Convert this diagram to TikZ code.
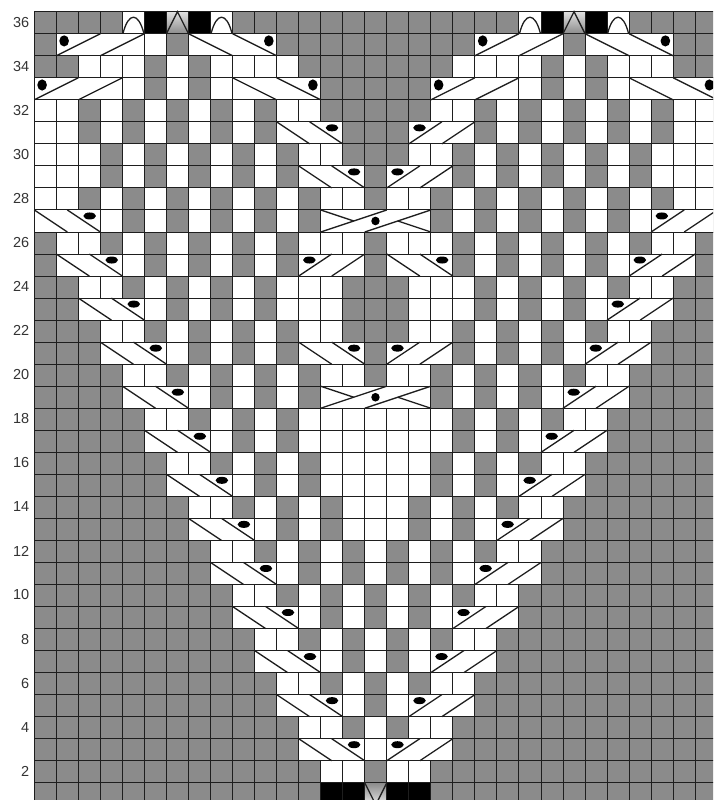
\documentclass[tikz,border=0pt]{standalone}
\usepackage{fontspec}
\setmainfont{Liberation Sans}
\usetikzlibrary{calc}
\definecolor{cellgray}{HTML}{8B8B8B}
\definecolor{gridink}{HTML}{1E1E1E}
\tikzset{
  declare function={cx(\c)=34.3+22.03*\c; ry(\r)=11.7+22.03*(36-\r);},
  gridline/.style={draw=gridink,line width=0.95pt},
  braidline/.style={draw=gridink,line width=1.3pt},
  blockfill/.style={fill=white,draw=gridink,line width=0.95pt},
  rowlabel/.style={font=\fontsize{14.5}{16}\selectfont,text=black!80,anchor=east,inner sep=0pt},
}
% falling block: #1 row, #2 first column, #3 number of columns
\newcommand{\fallblock}[3]{%
  \fill[blockfill] ({cx(#2)},{ry(#1)}) rectangle ({cx(#2+#3)},{ry(#1-1)});
  \draw[braidline] ({cx(#2)},{ry(#1)}) -- ({cx(#2+#3/2)},{ry(#1-1)});
  \draw[braidline] ({cx(#2+#3/2)},{ry(#1)}) -- ({cx(#2+#3)},{ry(#1-1)});
}
\newcommand{\riseblock}[3]{%
  \fill[blockfill] ({cx(#2)},{ry(#1)}) rectangle ({cx(#2+#3)},{ry(#1-1)});
  \draw[braidline] ({cx(#2)},{ry(#1-1)}) -- ({cx(#2+#3/2)},{ry(#1)});
  \draw[braidline] ({cx(#2+#3/2)},{ry(#1-1)}) -- ({cx(#2+#3)},{ry(#1)});
}
\newcommand{\crossblock}[1]{%
  \fill[blockfill] ({cx(13)},{ry(#1)}) rectangle ({cx(18)},{ry(#1-1)});
  \draw[braidline] ({cx(13)},{ry(#1-1)}) -- ({cx(16)},{ry(#1)});
  \draw[braidline] ({cx(15)},{ry(#1-1)}) -- ({cx(18)},{ry(#1)});
  \draw[braidline] ({cx(13)},{ry(#1)}) -- ({cx(14.5)},{ry(#1-0.5)});
  \draw[braidline] ({cx(16.5)},{ry(#1-0.5)}) -- ({cx(18)},{ry(#1-1)});
  \fill[black] ({cx(15.5)-0.3},{ry(#1-0.5)}) ellipse [x radius=4.2pt,y radius=4.3pt];
}
\begin{document}
\begin{tikzpicture}[x=1pt,y=-1pt]
\useasboundingbox (0,0) rectangle (713,800);
\begin{scope}
\clip (0,0) rectangle (713,800);
% gray ground
\fill[cellgray] ({cx(0)},{ry(36)}) rectangle ({cx(31)},{ry(0)});
% white cells, row by row
\foreach \r/\cells in {
 34/{2,3,4,6,8,9,10,11,19,20,21,22,24,26,27,28},
 35/{5},
 33/{4,6,8,22,24,26},
 32/{0,1,3,5,7,9,11,12,18,19,21,23,25,27,29,30},
 31/{0,1,3,5,7,9,21,23,25,27,29,30},
 30/{0,1,2,4,6,8,10,12,13,17,18,20,22,24,26,28,29,30},
 29/{0,1,2,4,6,8,10,20,22,24,26,28,29,30},
 28/{0,1,3,5,7,9,11,13,14,16,17,19,21,23,25,27,29,30},
 27/{3,5,7,9,11,19,21,23,25,27},
 26/{1,2,4,6,8,10,12,13,14,16,17,18,20,22,24,26,28,29},
 25/{4,6,8,10,20,22,24,26},
 24/{2,3,5,7,9,11,12,13,17,18,19,21,23,25,27,28},
 23/{5,7,9,11,12,13,17,18,19,21,23,25},
 22/{3,4,6,8,10,12,13,17,18,20,22,24,26,27},
 21/{6,8,10,20,22,24},
 20/{4,5,7,9,11,13,14,16,17,19,21,23,25,26},
 19/{7,9,11,19,21,23},
 18/{5,6,8,10,12,13,14,15,16,17,18,20,22,24,25},
 17/{8,10,12,13,14,15,16,17,18,20,22},
 16/{6,7,9,11,13,14,15,16,17,19,21,23,24},
 15/{9,11,13,14,15,16,17,19,21},
 14/{7,8,10,12,14,15,16,18,20,22,23},
 13/{10,12,14,15,16,18,20},
 12/{8,9,11,13,15,17,19,21,22},
 11/{11,13,15,17,19},
 10/{9,10,12,14,16,18,20,21},
 9/{12,14,16,18},
 8/{10,11,13,15,17,19,20},
 7/{13,15,17},
 6/{11,12,14,16,18,19},
 5/{14,16},
 4/{12,13,15,17,18},
 3/{15},
 2/{13,14,16,17},
 36/{4,8,22,26}}{
  \foreach \c in \cells {
    \fill[white] ({cx(\c)},{ry(\r)}) rectangle ({cx(\c+1)},{ry(\r-1)});
  }
}
% black cells
\foreach \r/\c in {36/5,36/7,36/23,36/25,1/13,1/14,1/16,1/17}{
  \fill[black] ({cx(\c)},{ry(\r)}) rectangle ({cx(\c+1)},{ry(\r-1)});
}
% shaded triangle cells
\foreach \c in {6,24}{
  \shade[top color=black!12,bottom color=cellgray] ({cx(\c)},{ry(36)}) rectangle ({cx(\c+1)},{ry(35)});
}
\shade[top color=cellgray,bottom color=black!10] ({cx(15)},{ry(1)}) rectangle ({cx(16)},{ry(0)});
% grid
\foreach \c in {0,...,31}{ \draw[gridline] ({cx(\c)},{ry(36)}) -- ({cx(\c)},{ry(0)}); }
\foreach \r in {0,...,36}{ \draw[gridline] ({cx(0)},{ry(\r)}) -- ({cx(31)},{ry(\r)}); }
% arches and peaks
\foreach \c in {4,8,22,26}{
  \draw[braidline] ({cx(\c)+0.5},{ry(35)}) .. controls ({cx(\c)+6},{ry(36)}) and ({cx(\c+1)-6},{ry(36)}) .. ({cx(\c+1)-0.5},{ry(35)});
}
\foreach \c in {6,24}{
  \draw[braidline] ({cx(\c)},{ry(35)}) -- ({cx(\c+0.5)},{ry(36)}) -- ({cx(\c+1)},{ry(35)});
}
\draw[braidline] ({cx(15)},{ry(1)}) -- ({cx(15.5)},{ry(0)}) -- ({cx(16)},{ry(1)});
% braid blocks
\foreach \r/\c in {31/11,29/12,27/0,25/1,25/16,23/2,21/3,21/12,19/4,17/5,15/6,13/7,11/8,9/9,7/10,5/11,3/12}{
  \fallblock{\r}{\c}{3}
  \fill[black] ({cx(\c+3)-10.7},{ry(\r)+6}) ellipse [x radius=6.3pt,y radius=3.5pt];
}
\foreach \r/\c in {31/17,29/16,27/28,25/12,25/27,23/26,21/16,21/25,19/24,17/23,15/22,13/21,11/20,9/19,7/18,5/17,3/16}{
  \riseblock{\r}{\c}{3}
  \fill[black] ({cx(\c)+10.7},{ry(\r)+6}) ellipse [x radius=6.3pt,y radius=3.5pt];
}
\foreach \r/\c in {35/1,35/20,33/0,33/18}{
  \riseblock{\r}{\c}{4}
  \fill[black] ({cx(\c)+7.8},{ry(\r)+7.2}) ellipse [x radius=4.8pt,y radius=5.6pt];
}
\foreach \r/\c in {35/7,35/25,33/9,33/27}{
  \fallblock{\r}{\c}{4}
  \fill[black] ({cx(\c+4)-7.8},{ry(\r)+7.2}) ellipse [x radius=4.8pt,y radius=5.6pt];
}
\crossblock{27}
\crossblock{19}
\end{scope}
% row labels
\foreach \r in {2,4,...,36}{
  \node[rowlabel] (lab\r) at (29.5,{ry(\r-0.5)-0.5}) {\r};
}
\end{tikzpicture}
\end{document}
